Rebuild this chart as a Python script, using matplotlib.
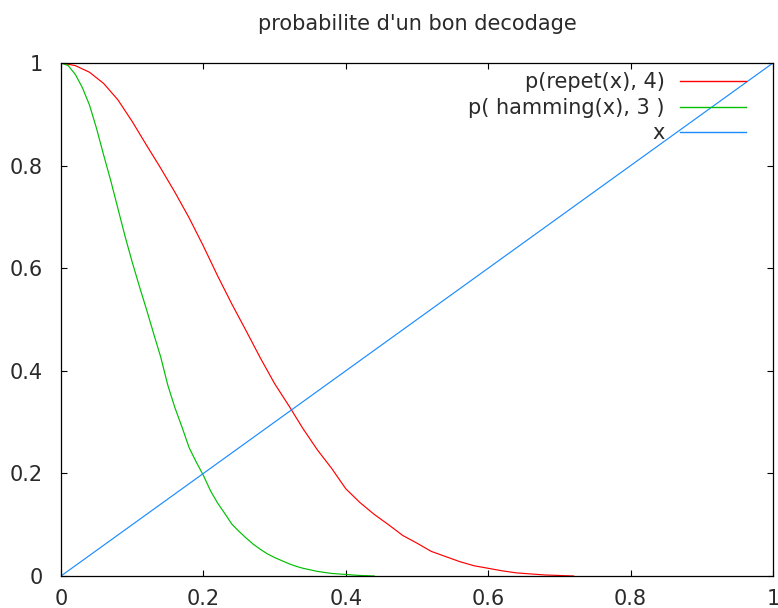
import matplotlib.pyplot as plt
import numpy as np

# values
repet_x = [0, 0.02, 0.04, 0.06, 0.08, 0.1, 0.12, 0.14, 0.16, 0.18, 0.2,
           0.22, 0.24, 0.26, 0.28, 0.3, 0.32, 0.34, 0.36, 0.38, 0.4,
           0.42, 0.44, 0.46, 0.48, 0.5, 0.52, 0.54, 0.56, 0.58, 0.6,
           0.62, 0.64, 0.66, 0.68, 0.7, 0.72]
repet_y = [1, 0.995, 0.982, 0.96, 0.928, 0.886, 0.84, 0.795, 0.748, 0.698, 0.643,
           0.585, 0.53, 0.478, 0.425, 0.375, 0.332, 0.287, 0.246, 0.21, 0.17,
           0.143, 0.12, 0.1, 0.079, 0.064, 0.048, 0.038, 0.028, 0.02, 0.015,
           0.01, 0.006, 0.004, 0.002, 0.001, 0.0]

hamming_x = [0, 0.01, 0.02, 0.03, 0.04, 0.05, 0.06, 0.07, 0.08, 0.09, 0.1,
             0.11, 0.12, 0.13, 0.14, 0.15, 0.16, 0.17, 0.18, 0.19, 0.2,
             0.21, 0.22, 0.23, 0.24, 0.25, 0.26, 0.27, 0.28, 0.29, 0.3,
             0.31, 0.32, 0.33, 0.34, 0.36, 0.38, 0.4, 0.42, 0.44]
hamming_y = [1, 0.995, 0.978, 0.952, 0.918, 0.872, 0.82, 0.77, 0.716, 0.662, 0.612,
             0.565, 0.52, 0.473, 0.427, 0.372, 0.328, 0.29, 0.25, 0.222, 0.196,
             0.166, 0.142, 0.122, 0.101, 0.087, 0.074, 0.062, 0.052, 0.043, 0.036,
             0.03, 0.024, 0.019, 0.015, 0.009, 0.005, 0.003, 0.001, 0.0]

ident_x = [0, 1]
ident_y = [0, 1]

ticks = [0, 0.2, 0.4, 0.6, 0.8, 1]
tick_labels = ["0", "0.2", "0.4", "0.6", "0.8", "1"]

labels = ["p(repet(x), 4)", "p( hamming(x), 3 )", "x"]
colors = ["#ff0000", "#00c000", "#1a8cff"]

plt.rcParams['font.family'] = ['DejaVu Sans']
txt = "#2a2a2a"

fig = plt.figure(figsize=(7.78, 6.08), dpi=100)
ax = fig.add_axes([61 / 778, 32 / 608, 712 / 778, 513 / 608])

ax.plot(repet_x, repet_y, color=colors[0], lw=0.85, label=labels[0])
ax.plot(hamming_x, hamming_y, color=colors[1], lw=0.85, label=labels[1])
ax.plot(ident_x, ident_y, color=colors[2], lw=0.85, label=labels[2])

ax.set_xlim(0, 1)
ax.set_ylim(0, 1)
ax.set_xticks(ticks)
ax.set_xticklabels(tick_labels)
ax.set_yticks(ticks)
ax.set_yticklabels(tick_labels)
ax.tick_params(direction="in", length=4.5, width=0.8, top=True, right=True,
               labelsize=15, labelcolor=txt)
ax.tick_params(axis="y", pad=13)
ax.tick_params(axis="x", pad=9.5)
for sp in ax.spines.values():
    sp.set_linewidth(0.9)
    sp.set_color("black")

ax.set_title("probabilite d'un bon decodage", fontsize=15, color=txt, pad=24)

leg = ax.legend(loc="upper right", bbox_to_anchor=(0.962, 0.982), frameon=False,
                markerfirst=False, fontsize=15, handlelength=3.17,
                handletextpad=0.72, labelspacing=0.27, borderpad=0,
                borderaxespad=0)
for t in leg.get_texts():
    t.set_color(txt)
for h, c in zip(leg.legend_handles, colors):
    h.set_color(c)
    h.set_linewidth(1.0)

fig.savefig("out.png", dpi=100)
